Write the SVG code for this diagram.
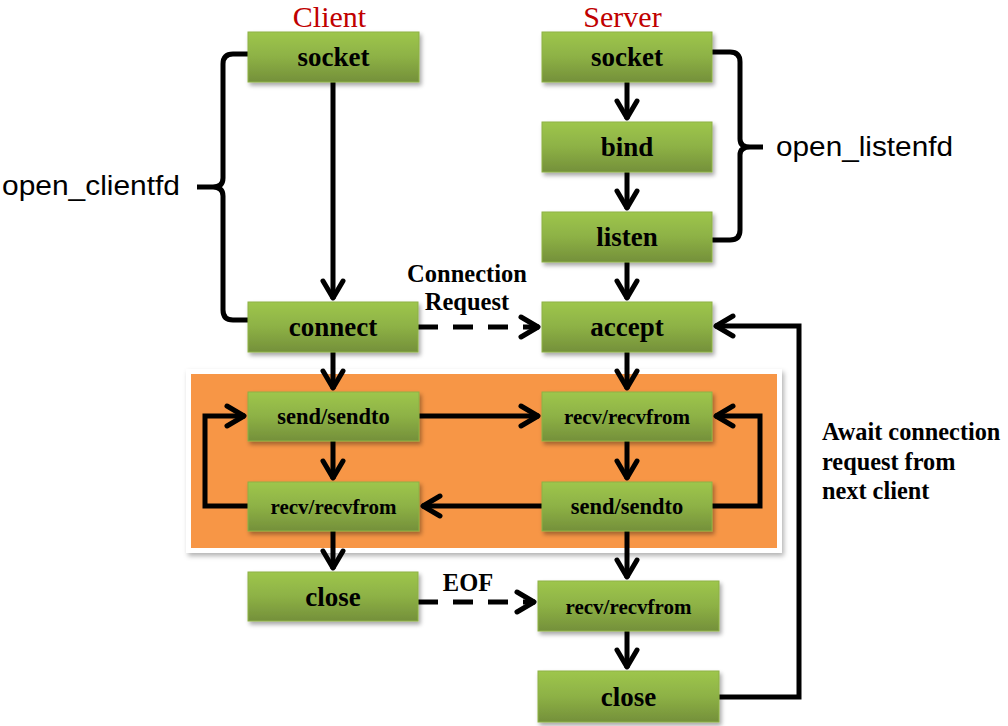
<svg xmlns="http://www.w3.org/2000/svg" width="1008" height="726" viewBox="0 0 1008 726">
<defs>
<linearGradient id="g" x1="0" y1="0" x2="0" y2="1">
<stop offset="0" stop-color="#9EC64D"/>
<stop offset="0.5" stop-color="#8DB145"/>
<stop offset="1" stop-color="#74903A"/>
</linearGradient>
<filter id="sh" x="-10%" y="-20%" width="130%" height="160%">
<feDropShadow dx="2" dy="3" stdDeviation="2" flood-color="#000" flood-opacity="0.35"/>
</filter>
<filter id="sh2" x="-5%" y="-5%" width="110%" height="115%">
<feDropShadow dx="2" dy="3" stdDeviation="2.5" flood-color="#000" flood-opacity="0.3"/>
</filter>
<marker id="ah" markerUnits="userSpaceOnUse" viewBox="-24 -14 28 28" markerWidth="28" markerHeight="28" refX="0" refY="0" orient="auto">
<path d="M-18,-10 L-1,0 L-18,10" fill="none" stroke="#000" stroke-width="5" stroke-linejoin="round" stroke-linecap="round"/>
</marker>
<style>
.box{fill:url(#g);stroke:#8DB145;stroke-width:1;filter:url(#sh)}
.bt{font-family:"Liberation Serif","Times New Roman",serif;font-weight:bold;fill:#000;text-anchor:middle}
.big{font-size:27px}
.sm{font-size:21px}
.ln{fill:none;stroke:#000;stroke-width:5}
.ar{marker-end:url(#ah)}
.dash{stroke-dasharray:20 15}
.title{font-family:"Liberation Serif","Times New Roman",serif;font-size:30px;fill:#C00000;text-anchor:middle}
.lbl{font-family:"Liberation Sans",Arial,sans-serif;font-size:27px;fill:#000}
.note{font-family:"Liberation Serif","Times New Roman",serif;font-weight:bold;font-size:24.3px;fill:#000}
</style>
</defs>
<rect width="1008" height="726" fill="#fff"/>

<g id="panel">
<rect x="186" y="369" width="596" height="184" fill="#fff" filter="url(#sh2)"/>
<rect x="191" y="374" width="586" height="174" fill="#F79646"/>
</g>

<text class="title" x="329.5" y="27">Client</text>
<text class="title" x="622.5" y="27">Server</text>

<g id="connectors">
<path class="ln ar" d="M333,82 V299"/>
<path class="ln ar" d="M333,352 V389"/>
<path class="ln ar" d="M333,441 V479"/>
<path class="ln ar" d="M333,531 V569"/>
<path class="ln ar" d="M627,82 V119"/>
<path class="ln ar" d="M627,172 V209"/>
<path class="ln ar" d="M627,262 V299"/>
<path class="ln ar" d="M627,352 V389"/>
<path class="ln ar" d="M627,441 V479"/>
<path class="ln ar" d="M627,531 V578"/>
<path class="ln ar" d="M627,631 V668"/>
<path class="ln ar" d="M419,416 H539"/>
<path class="ln ar" d="M542,506 H422"/>
<path class="ln ar" d="M248,506 H205 V416 H245"/>
<path class="ln ar" d="M712,506 H760 V416 H715"/>
<path class="ln ar dash" d="M418,327 H539"/>
<path class="ln ar dash" d="M418,602 H535"/>
<path class="ln ar" d="M719,697 H799 V326 H715"/>
<path class="ln" d="M248,54 H233 Q223,54 223,64 V178 Q223,187 213,187 H197 M213,187 Q223,187 223,196 V310 Q223,320 233,320 H248"/>
<path class="ln" d="M712,52 H730 Q740,52 740,62 V139 Q740,147 750,147 H763 M750,147 Q740,147 740,155 V230 Q740,240 730,240 H712"/>
</g>

<g id="n-client-socket"><rect class="box" x="248" y="32" width="171" height="50"/><text class="bt big" x="333.5" y="66">socket</text></g>
<g id="n-client-connect"><rect class="box" x="248" y="302" width="170" height="50"/><text class="bt big" x="333" y="336">connect</text></g>
<g id="n-client-send"><rect class="box" x="248" y="392" width="171" height="49"/><text class="bt sm" x="333.5" y="424" style="font-size:22.5px">send/sendto</text></g>
<g id="n-client-recv"><rect class="box" x="248" y="482" width="171" height="49"/><text class="bt sm" x="333.5" y="514">recv/recvfrom</text></g>
<g id="n-client-close"><rect class="box" x="248" y="572" width="170" height="49"/><text class="bt big" x="333" y="606">close</text></g>

<g id="n-server-socket"><rect class="box" x="542" y="32" width="170" height="50"/><text class="bt big" x="627" y="66">socket</text></g>
<g id="n-server-bind"><rect class="box" x="542" y="122" width="170" height="50"/><text class="bt big" x="627" y="156">bind</text></g>
<g id="n-server-listen"><rect class="box" x="542" y="212" width="170" height="50"/><text class="bt big" x="627" y="246">listen</text></g>
<g id="n-server-accept"><rect class="box" x="542" y="302" width="170" height="50"/><text class="bt big" x="627" y="336">accept</text></g>
<g id="n-server-recv"><rect class="box" x="542" y="392" width="170" height="49"/><text class="bt sm" x="627" y="424">recv/recvfrom</text></g>
<g id="n-server-send"><rect class="box" x="542" y="482" width="170" height="49"/><text class="bt sm" x="627" y="514" style="font-size:22.5px">send/sendto</text></g>
<g id="n-server-recv2"><rect class="box" x="538" y="581" width="181" height="50"/><text class="bt sm" x="628.5" y="614">recv/recvfrom</text></g>
<g id="n-server-close"><rect class="box" x="538" y="671" width="181" height="51"/><text class="bt big" x="628.5" y="706">close</text></g>

<g id="labels">
<text class="lbl" x="2" y="195" textLength="178" lengthAdjust="spacingAndGlyphs">open_clientfd</text>
<text class="lbl" x="776" y="156" textLength="177" lengthAdjust="spacingAndGlyphs">open_listenfd</text>
<text class="note" x="467" y="282" text-anchor="middle" style="font-size:24.5px">Connection</text>
<text class="note" x="467" y="310" text-anchor="middle" style="font-size:24.5px">Request</text>
<text class="note" x="468" y="591" text-anchor="middle" style="font-size:24.5px">EOF</text>
<text class="note" x="822" y="440">Await connection</text>
<text class="note" x="822" y="470">request from</text>
<text class="note" x="822" y="499">next client</text>
</g>
</svg>
